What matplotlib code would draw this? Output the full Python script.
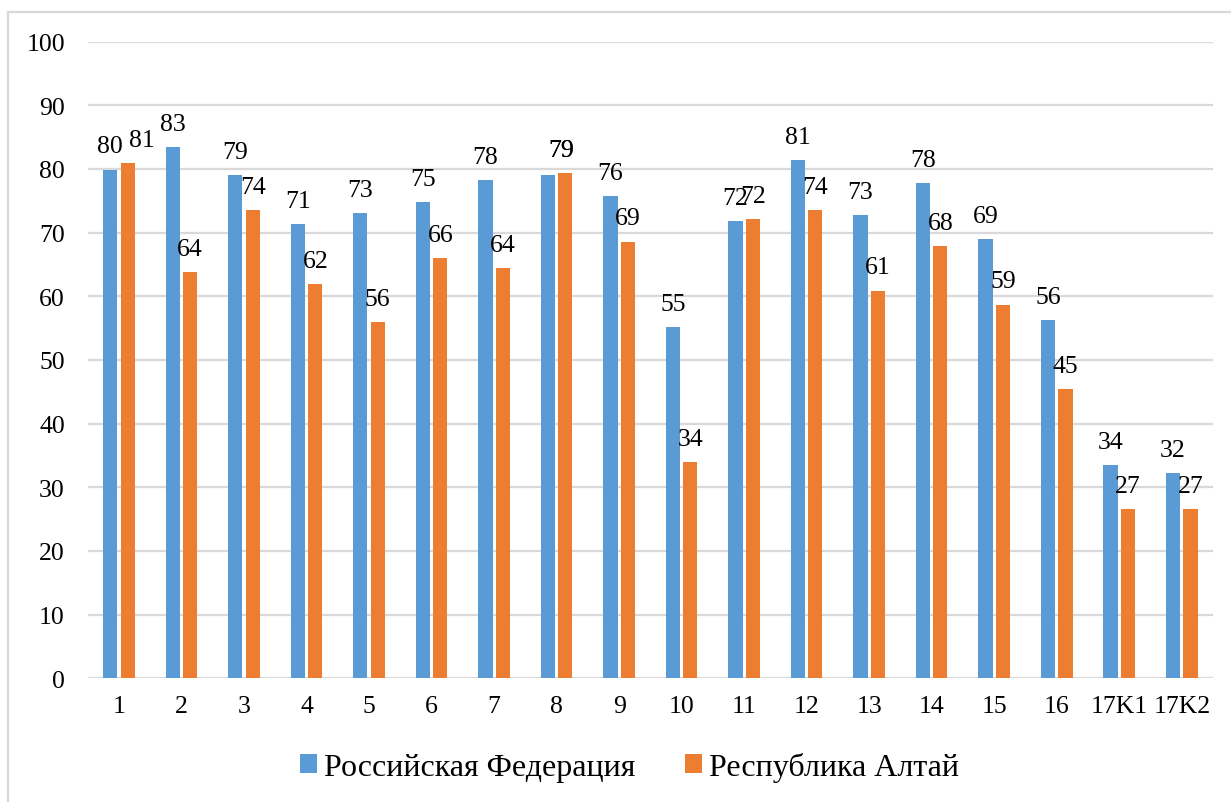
import numpy as np
import matplotlib
matplotlib.use("Agg")
import matplotlib.pyplot as plt
from matplotlib.patches import Rectangle

plt.rcParams["font.family"] = ["Liberation Serif", "DejaVu Serif"]

categories = ["1", "2", "3", "4", "5", "6", "7", "8", "9", "10", "11", "12",
              "13", "14", "15", "16", "17K1", "17K2"]
series_names = ["Российская Федерация", "Республика Алтай"]
rf_values = [79.9, 83.4, 79.0, 71.3, 73.0, 74.8, 78.2, 79.1, 75.7, 55.1, 71.8,
             81.4, 72.7, 77.8, 69.0, 56.3, 33.5, 32.3]
ra_values = [80.9, 63.8, 73.6, 61.9, 55.9, 66.0, 64.4, 79.3, 68.6, 34.0, 72.1,
             73.6, 60.9, 67.9, 58.7, 45.4, 26.6, 26.6]

BLUE = "#5B9BD5"
ORANGE = "#ED7D31"
GRID = "#D9D9D9"

# manual nudges of a few data labels (points), as in the source chart
label_dx = {(0, 1): 10.5, (7, 0): 9.4, (7, 1): -3.11}
label_dy = {(7, 0): 0.917}

fig = plt.figure(figsize=(12.31, 8.03), dpi=100)
ax = fig.add_axes([0.0713, 0.154, 0.9141, 0.793])

x = np.arange(len(categories))
w = 0.227
off = 0.139
for s, (vals, col) in enumerate([(rf_values, BLUE), (ra_values, ORANGE)]):
    xs = x - off if s == 0 else x + off
    ax.bar(xs, vals, width=w, color=col, label=series_names[s], zorder=3)
    for i, v in enumerate(vals):
        ax.annotate(f"{v:.0f}", (xs[i], v),
                    xytext=(label_dx.get((i, s), 0), 12.3 + label_dy.get((i, s), 0)),
                    textcoords="offset points", ha="center", va="baseline",
                    fontsize=18.5, color="black", zorder=5)

ax.set_xlim(-0.5, len(categories) - 0.5)
ax.set_ylim(0, 100)
ax.set_yticks(range(0, 101, 10))
ax.set_xticks(x)
ax.set_xticklabels(categories)
ax.yaxis.grid(True, color=GRID, linewidth=1.6, zorder=0)
ax.set_axisbelow(True)
for sp in ax.spines.values():
    sp.set_visible(False)
ax.tick_params(axis="both", length=0, labelsize=18.5)
ax.tick_params(axis="y", pad=16.5)
ax.tick_params(axis="x", pad=12)

fig.legend(loc="center", bbox_to_anchor=(629.8 / 1231, 0.044), ncol=2,
           frameon=False, fontsize=23, handlelength=0.53, handleheight=0.53,
           handletextpad=0.22, columnspacing=1.56)

# outer chart frame (only left and top edges fall inside the image)
fig.patches.append(Rectangle((8 / 1231, -0.05), 1.2, (803 - 13.3) / 803 + 0.05,
                             transform=fig.transFigure, fill=False,
                             edgecolor=GRID, linewidth=1.6))

fig.savefig("out.png", dpi=100)
plt.close(fig)
